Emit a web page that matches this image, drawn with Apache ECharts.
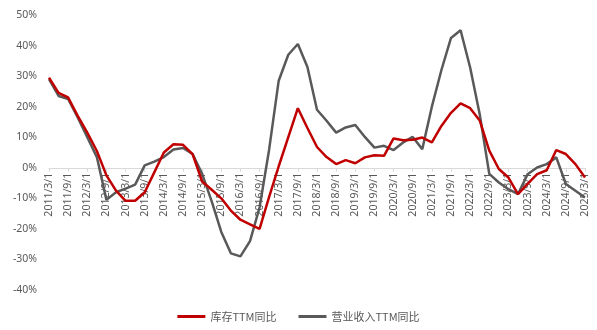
<!DOCTYPE html>
<html>
<head>
<meta charset="utf-8">
<script src="https://cdn.jsdelivr.net/npm/echarts@6/dist/echarts.min.js"></script>
<style>
html,body{margin:0;padding:0;background:#fff;}
#chart{width:597px;height:330px;}
</style>
</head>
<body>
<div id="chart"></div>
<script>
const categories = [
"2011/3/1","2011/6/1","2011/9/1","2011/12/1",
"2012/3/1","2012/6/1","2012/9/1","2012/12/1",
"2013/3/1","2013/6/1","2013/9/1","2013/12/1",
"2014/3/1","2014/6/1","2014/9/1","2014/12/1",
"2015/3/1","2015/6/1","2015/9/1","2015/12/1",
"2016/3/1","2016/6/1","2016/9/1","2016/12/1",
"2017/3/1","2017/6/1","2017/9/1","2017/12/1",
"2018/3/1","2018/6/1","2018/9/1","2018/12/1",
"2019/3/1","2019/6/1","2019/9/1","2019/12/1",
"2020/3/1","2020/6/1","2020/9/1","2020/12/1",
"2021/3/1","2021/6/1","2021/9/1","2021/12/1",
"2022/3/1","2022/6/1","2022/9/1","2022/12/1",
"2023/3/1","2023/6/1","2023/9/1","2023/12/1",
"2024/3/1","2024/6/1","2024/9/1","2024/12/1",
"2025/3/1"
];
const inventoryYoY = [
29.5,24.5,23,17,11.5,5.5,-2.5,-7.5,
-10.8,-10.8,-8,-1.5,5,7.7,7.5,4.5,
-4.5,-7.2,-10,-14,-17,-18.5,-20,-9.5,
0.5,10,19.5,13,6.8,3.5,1.2,2.5,
1.5,3.4,4.1,3.9,9.6,9.0,9.2,9.9,
8.3,13.7,18,21.1,19.5,15.5,5.6,-0.4,
-3.2,-8.6,-5.3,-2.1,-0.8,5.8,4.5,1.2,
-3.2
];
const revenueYoY = [
29,23.5,22.5,16.5,10,3.5,-10.5,-8,
-6.8,-5.5,0.8,2,3.5,6,6.5,4.5,
-2,-11,-21,-28,-29,-24,-13,6,
28.5,37,40.5,33,19,15.4,11.5,13.2,
14,10.1,6.6,7.2,5.8,8.3,10.1,6.1,
20,32,42.5,45,32.8,17.5,-2,-4.8,
-7,-8.6,-2.1,0.1,1.2,3.4,-5.3,-7.5,
-9.7
];
const seriesNames = ["库存TTM同比","营业收入TTM同比"];
const yTicks = {min:-40, max:50, interval:10};

const W = 597, H = 330;
const gridTop = 15, gridBottom = 40;
const plotH = H - gridTop - gridBottom;
const zeroOffset = -plotH * (0 - yTicks.min) / (yTicks.max - yTicks.min);

const chart = echarts.init(document.getElementById('chart'), null, {renderer:'canvas'});
const textColor = '#595959';
const font = '"Noto Sans", "Noto Sans CJK SC", sans-serif';
chart.setOption({
  animation:false,
  backgroundColor:'#fff',
  grid:{left:49, right:12, top:gridTop, bottom:gridBottom, containLabel:false, outerBoundsMode:'none'},
  legend:{
    bottom:3, left:'center',
    itemWidth:28, itemHeight:3, itemGap:22,
    icon:'rect',
    textStyle:{color:textColor, fontSize:11, fontFamily:'"Noto Sans CJK SC", sans-serif'},
    data:seriesNames
  },
  xAxis:{
    type:'category',
    data:categories,
    boundaryGap:false,
    offset:zeroOffset,
    axisLine:{onZero:false, lineStyle:{color:'#d9d9d9', width:1}},
    axisTick:{show:true, interval:1, length:4, lineStyle:{color:'#d9d9d9'}},
    axisLabel:{interval:1, rotate:90, color:textColor, fontSize:10.5, fontFamily:font, margin:5, hideOverlap:false},
    splitLine:{show:false}
  },
  yAxis:{
    type:'value',
    min:yTicks.min, max:yTicks.max, interval:yTicks.interval,
    axisLine:{show:false},
    axisTick:{show:false},
    splitLine:{show:false},
    axisLabel:{formatter:'{value}%', color:textColor, fontSize:10.5, fontFamily:font, margin:12}
  },
  series:[
    {name:seriesNames[0], type:'line', data:inventoryYoY, symbol:'none',
     lineStyle:{color:'#C00000', width:2.5}, itemStyle:{color:'#C00000'}, z:3},
    {name:seriesNames[1], type:'line', data:revenueYoY, symbol:'none',
     lineStyle:{color:'#595959', width:2.5}, itemStyle:{color:'#595959'}, z:2}
  ]
});
</script>
</body>
</html>
